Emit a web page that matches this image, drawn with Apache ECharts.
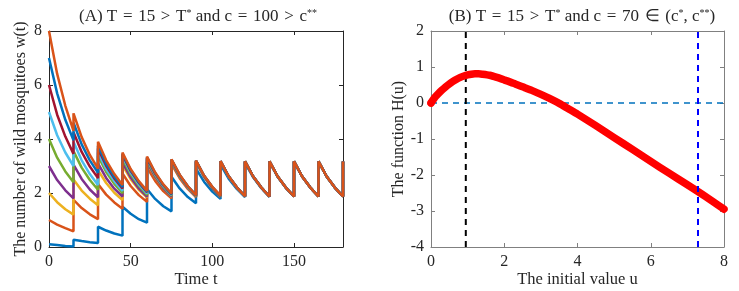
<!DOCTYPE html>
<html>
<head>
<meta charset="utf-8">
<script src="https://cdn.jsdelivr.net/npm/echarts@6/dist/echarts.min.js"></script>
<style>html,body{margin:0;padding:0;background:#fff;}#c{width:739px;height:291px;}</style>
</head>
<body>
<div id="c"></div>
<script>
// ---- Panel A data: time grid (release every 15 days) ----
const times = [0,5,10,15, 15,20,25,30, 30,35,40,45, 45,50,55,60, 60,65,70,75, 75,80,85,90,
  90,95,100,105, 105,110,115,120, 120,125,130,135, 135,140,145,150, 150,155,160,165, 165,170,175,180, 180];
const initialValues = [0.1, 1, 2, 3, 4, 5, 6, 7, 8];
const w01 = [0.1,0.07,0.04,0.02, 0.27,0.22,0.18,0.15, 0.75,0.61,0.5,0.42, 1.49,1.23,1.03,0.9,
  2.15,1.78,1.51,1.32, 2.6,2.17,1.85,1.62, 2.9,2.41,2.05,1.78, 3.06,2.53,2.15,1.85,
  3.12,2.58,2.18,1.86, 3.15,2.6,2.19,1.87, 3.17,2.61,2.2,1.87, 3.17,2.61,2.2,1.87, 3.17];
const w1 = [1,0.83,0.7,0.58, 1.75,1.44,1.21,1.03, 2.33,1.94,1.65,1.42, 2.72,2.26,1.92,1.67,
  2.95,2.45,2.07,1.8, 3.08,2.55,2.15,1.85, 3.14,2.59,2.18,1.86, 3.16,2.6,2.19,1.87,
  3.17,2.61,2.2,1.87, 3.17,2.61,2.2,1.87, 3.17,2.61,2.2,1.87, 3.17,2.61,2.2,1.87, 3.17];
const w2 = [2,1.66,1.4,1.2, 2.5,2.09,1.79,1.55, 2.85,2.37,2.01,1.74, 3.03,2.51,2.12,1.84,
  3.12,2.58,2.18,1.86, 3.15,2.6,2.19,1.87, 3.17,2.61,2.2,1.87, 3.17,2.61,2.2,1.87,
  3.17,2.61,2.2,1.87, 3.17,2.61,2.2,1.87, 3.17,2.61,2.2,1.87, 3.17,2.61,2.2,1.87, 3.17];
const w3 = [3,2.48,2.1,1.8, 3.05,2.52,2.13,1.84, 3.1,2.56,2.16,1.87, 3.13,2.58,2.17,1.87,
  3.15,2.6,2.18,1.87, 3.16,2.61,2.19,1.87, 3.17,2.61,2.2,1.87, 3.17,2.61,2.2,1.87,
  3.17,2.61,2.2,1.87, 3.17,2.61,2.2,1.87, 3.17,2.61,2.2,1.87, 3.17,2.61,2.2,1.87, 3.17];
const w4 = [4,3.31,2.8,2.4, 3.55,2.94,2.48,2.12, 3.38,2.78,2.34,1.99, 3.27,2.69,2.27,1.93,
  3.21,2.65,2.23,1.9, 3.18,2.62,2.21,1.88, 3.17,2.61,2.2,1.87, 3.17,2.61,2.2,1.87,
  3.17,2.61,2.2,1.87, 3.17,2.61,2.2,1.87, 3.17,2.61,2.2,1.87, 3.17,2.61,2.2,1.87, 3.17];
const w5 = [5,4.14,3.5,3.0, 3.9,3.21,2.7,2.3, 3.5,2.89,2.44,2.08, 3.35,2.76,2.32,1.98,
  3.26,2.69,2.26,1.93, 3.21,2.65,2.23,1.9, 3.18,2.62,2.21,1.88, 3.17,2.61,2.2,1.87,
  3.17,2.61,2.2,1.87, 3.17,2.61,2.2,1.87, 3.17,2.61,2.2,1.87, 3.17,2.61,2.2,1.87, 3.17];
const w6 = [6,4.9,4.09,3.45, 4.25,3.52,2.98,2.55, 3.65,3.01,2.54,2.17, 3.42,2.82,2.38,2.03,
  3.3,2.72,2.29,1.95, 3.23,2.66,2.24,1.91, 3.19,2.63,2.21,1.89, 3.18,2.62,2.21,1.88,
  3.17,2.61,2.2,1.87, 3.17,2.61,2.2,1.87, 3.17,2.61,2.2,1.87, 3.17,2.61,2.2,1.87, 3.17];
const w7 = [7,5.69,4.71,3.95, 4.6,3.8,3.21,2.75, 3.75,3.09,2.6,2.22, 3.45,2.85,2.4,2.05,
  3.32,2.74,2.3,1.96, 3.24,2.67,2.25,1.92, 3.2,2.64,2.22,1.89, 3.18,2.62,2.21,1.88,
  3.17,2.61,2.2,1.87, 3.17,2.61,2.2,1.87, 3.17,2.61,2.2,1.87, 3.17,2.61,2.2,1.87, 3.17];
const w8 = [8,6.41,5.23,4.3, 4.95,4.07,3.41,2.9, 3.9,3.21,2.7,2.3, 3.5,2.89,2.44,2.08,
  3.35,2.76,2.32,1.98, 3.25,2.68,2.25,1.92, 3.2,2.64,2.23,1.9, 3.18,2.62,2.21,1.88,
  3.17,2.61,2.2,1.87, 3.17,2.61,2.2,1.87, 3.17,2.61,2.2,1.87, 3.17,2.61,2.2,1.87, 3.17];
const wSeries = [w01, w1, w2, w3, w4, w5, w6, w7, w8];
const wColors = ['#0072BD','#D95319','#EDB120','#7E2F8E','#77AC30','#4DBEEE','#A2142F','#0072BD','#D95319'];
const xTicksA = [0, 50, 100, 150];

// ---- Panel B data ----
const uVals = [0,0.1,0.2,0.3,0.4,0.5,0.6,0.7,0.8,0.9,1.0,1.1,1.2,1.3,1.4,1.6,1.8,2.0,2.25,2.5,2.75,3.0,3.25,3.5,3.75,4.0,4.5,5.0,5.5,6.0,6.5,7.0,7.5,8.0];
const hVals = [0,0.15,0.26,0.36,0.45,0.53,0.6,0.66,0.71,0.75,0.78,0.8,0.81,0.81,0.8,0.77,0.71,0.64,0.55,0.45,0.35,0.24,0.12,-0.01,-0.16,-0.31,-0.63,-0.96,-1.29,-1.62,-1.95,-2.27,-2.6,-2.95];
const uStar = 0.95;      // black dashed line
const uStarStar = 7.29;  // blue dashed line

const font = 'Liberation Serif';
const txt = '#262626';
const chart = echarts.init(document.getElementById('c'), null, {renderer: 'canvas'});

function axisBase(color, show) {
  return {
    axisLine: {show: true, onZero: false, lineStyle: {color: color, width: 1}},
    axisTick: {show: true, inside: true, length: 4, lineStyle: {color: color}},
    axisLabel: {show: show, color: txt, fontFamily: font, fontSize: 16, margin: 7},
    splitLine: {show: false}
  };
}

const rich = {sup: {fontFamily: font, fontSize: 10, verticalAlign: 'top', padding: [0,0,8,0], color: txt},
              n: {fontFamily: font, fontSize: 17, color: txt}};
const sp = ' \u200A';

const series = [];
wSeries.forEach((arr, i) => {
  series.push({
    type: 'line', xAxisIndex: 0, yAxisIndex: 0, showSymbol: false, animation: false,
    data: arr.map((v, k) => [times[k], v]),
    lineStyle: {color: wColors[i], width: 2.5}, itemStyle: {color: wColors[i]}, z: 2 + i
  });
});
series.push({
  type: 'line', xAxisIndex: 2, yAxisIndex: 2, showSymbol: false, animation: false,
  data: [[0, 0], [8, 0]], lineStyle: {color: '#0072BD', width: 1.5, type: [6, 5]}, z: 2
});
series.push({
  type: 'line', xAxisIndex: 2, yAxisIndex: 2, showSymbol: false, animation: false,
  data: [[uStar, -4], [uStar, 2]], lineStyle: {color: '#000000', width: 2, type: [6, 5]}, z: 3
});
series.push({
  type: 'line', xAxisIndex: 2, yAxisIndex: 2, showSymbol: false, animation: false, smooth: 0.2,
  data: uVals.map((u, k) => [u, hVals[k]]),
  lineStyle: {color: '#FF0000', width: 7.5, cap: 'round', join: 'round'}, z: 4
});
series.push({
  type: 'line', xAxisIndex: 2, yAxisIndex: 2, showSymbol: false, animation: false,
  data: [[uStarStar, -4], [uStarStar, 2]], lineStyle: {color: '#0000FF', width: 2, type: [6, 5]}, z: 5
});
series.push({
  type: 'scatter', xAxisIndex: 2, yAxisIndex: 2, animation: false, symbol: 'circle', symbolSize: 6,
  data: [[uVals[0], hVals[0]]],
  itemStyle: {color: 'rgba(0,0,0,0)', borderColor: '#FF0000', borderWidth: 1.5}, z: 5
});

const option = {
  backgroundColor: '#ffffff',
  animation: false,
  title: [
    {text: '{n|(A) T' + sp + '=' + sp + '15' + sp + '>' + sp + 'T}{sup|*}{n| and c' + sp + '=' + sp + '100' + sp + '>' + sp + 'c}{sup|**}',
     left: 193, top: 3, textAlign: 'center',
     textStyle: {rich: rich, fontFamily: font, fontSize: 17, fontWeight: 'normal'}},
    {text: '{n|(B) T' + sp + '=' + sp + '15' + sp + '>' + sp + 'T}{sup|*}{n| and c' + sp + '=' + sp + '70' + sp + '∈' + sp + '(c}{sup|*}{n|, c}{sup|**}{n|)}',
     left: 577, top: 3, textAlign: 'center',
     textStyle: {rich: rich, fontFamily: font, fontSize: 17, fontWeight: 'normal'}}
  ],
  grid: [
    {left: 49, right: 396, top: 31, bottom: 44, outerBoundsMode: 'none', containLabel: false},
    {left: 431, right: 15, top: 31, bottom: 44, outerBoundsMode: 'none', containLabel: false}
  ],
  xAxis: [
    Object.assign(axisBase('#262626', true), {type: 'value', gridIndex: 0, min: 0, max: 180, interval: 50,
      name: 'Time t', nameLocation: 'middle', nameGap: 24, nameMoveOverlap: false,
      nameTextStyle: {fontFamily: font, fontSize: 16.5, color: txt},
      axisLabel: {color: txt, fontFamily: font, fontSize: 16, margin: 7, customValues: xTicksA},
      axisTick: {show: true, inside: true, length: 4, customValues: xTicksA, lineStyle: {color: '#262626'}}}),
    Object.assign(axisBase('#262626', false), {type: 'value', gridIndex: 0, position: 'top', min: 0, max: 180, interval: 50,
      axisTick: {show: true, inside: true, length: 4, customValues: xTicksA, lineStyle: {color: '#262626'}}}),
    Object.assign(axisBase('#808080', true), {type: 'value', gridIndex: 1, min: 0, max: 8, interval: 2,
      name: 'The initial value u', nameLocation: 'middle', nameGap: 24, nameMoveOverlap: false,
      nameTextStyle: {fontFamily: font, fontSize: 16.5, color: txt}}),
    Object.assign(axisBase('#808080', false), {type: 'value', gridIndex: 1, position: 'top', min: 0, max: 8, interval: 2})
  ],
  yAxis: [
    Object.assign(axisBase('#262626', true), {type: 'value', gridIndex: 0, min: 0, max: 8, interval: 2,
      name: 'The number of wild mosquitoes w(t)', nameLocation: 'middle', nameGap: 20,
      nameTextStyle: {fontFamily: font, fontSize: 16, color: txt}}),
    Object.assign(axisBase('#262626', false), {type: 'value', gridIndex: 0, position: 'right', min: 0, max: 8, interval: 2}),
    Object.assign(axisBase('#808080', true), {type: 'value', gridIndex: 1, min: -4, max: 2, interval: 1,
      name: 'The function H(u)', nameLocation: 'middle', nameGap: 23,
      nameTextStyle: {fontFamily: font, fontSize: 16, color: txt}}),
    Object.assign(axisBase('#808080', false), {type: 'value', gridIndex: 1, position: 'right', min: -4, max: 2, interval: 1})
  ],
  series: series
};
chart.setOption(option);
</script>
</body>
</html>
